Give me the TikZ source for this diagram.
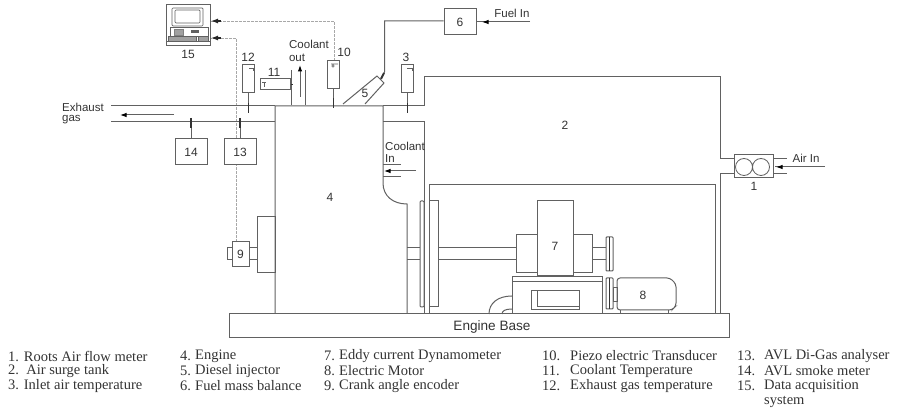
\documentclass[tikz,border=0pt]{standalone}
\usepackage{fontspec}
\setmainfont{Liberation Serif}
\setsansfont{Liberation Sans}
\usetikzlibrary{arrows.meta}
\definecolor{ln}{gray}{0.38}
\definecolor{tx}{gray}{0.2}
\tikzset{
  part/.style={draw=ln,line width=1pt},
  box/.style={draw=ln,line width=1pt,fill=white,minimum width=32pt,minimum height=26pt,inner sep=0pt,font=\sffamily\fontsize{12}{12}\selectfont,text=tx},
  lab/.style={font=\sffamily\fontsize{12}{12}\selectfont,text=tx,inner sep=0pt},
  small/.style={font=\sffamily\fontsize{11.5}{12}\selectfont,text=tx,inner sep=0pt},
  leg/.style={anchor=west,font=\rmfamily\fontsize{14.5}{15}\selectfont,text=tx,inner sep=0pt},
  sig/.style={draw=ln!55,line width=0.8pt,dashed,dash pattern=on 3pt off 1pt},
  tick/.style={draw=tx,line width=1.8pt},
  flow/.style={draw=ln,line width=1pt,-{Latex[length=6.5pt,width=4.5pt,color=black]}},
  sensor/.style={draw=ln,line width=1pt,fill=white,minimum width=12.5pt,minimum height=28pt,inner sep=0pt}
}
\begin{document}
\begin{tikzpicture}[x=1pt,y=-1pt]
\useasboundingbox (0,0) rectangle (897,411);
% signal lines
\coordinate (c1) at (211,21); \coordinate (c2) at (211,38);
\coordinate (s10a) at (334,21); \coordinate (s13a) at (236,38); \coordinate (s9a) at (236,242);
\coordinate (s10b) at (334,61);
\draw[sig] (s10b) -- (s10a) -- (c1);
\draw[sig] (s9a) -- (s13a) -- (c2);
\draw[draw=black!85,line width=1.2pt,-{Latex[length=7pt,width=5pt]}] (221,21) -- (c1);
\draw[draw=black!85,line width=1.2pt,-{Latex[length=7pt,width=5pt]}] (221,38) -- (c2);
% computer
\node[draw=ln,line width=1pt,minimum width=44pt,minimum height=41pt,inner sep=0pt] (pc) at (188,25.5) {};
\draw[ln,line width=0.7pt,rounded corners=1pt] (172,8) rectangle (203,26);
\draw[ln,line width=0.7pt,rounded corners=1pt] (175,10) rectangle (200,23);
\draw[ln,line width=0.7pt] (170,27) rectangle (208,36);
\draw[ln!80,fill=ln!60,line width=0.3pt] (174,29) rectangle (183,35);
\draw[ln,fill=ln,line width=0.3pt] (191,30) rectangle (198,32);
\draw[ln,line width=0.7pt,fill=ln!60] (168,36) rectangle (196,41);
\draw[ln,line width=0.7pt,fill=ln!60] (198,36) rectangle (208,41);
\draw[ln,line width=1pt] (166,42) -- (210,42);
\node[lab] (n15) at (188,54) {15};
% exhaust
\coordinate (e1a) at (111,106); \coordinate (e1b) at (111,122);
\node[lab,anchor=center] (n4) at (330,197) {4};
\draw[part] (e1a) -- (275,106);
\draw[part] (e1b) -- (275,122);
\draw[flow] (174,115) -- (120,115);
\node[small,anchor=west] (ex1) at (62,107) {Exhaust};
\node[small,anchor=west] (ex2) at (62,120) {gas};
% engine outline and tank
\draw[part] (407,314) -- (407,204) .. controls (393,204) and (383,196) .. (383,183) -- (383,106) -- (275,106) -- (275,314);
\draw[part] (383,106) -- (424,106) -- (424,77) -- (720,77) -- (720,159) -- (734,159);
\draw[part] (383,122) -- (424,122) -- (424,314);
\draw[part] (429,314) -- (429,185) -- (715,185) -- (715,314);
\draw[part] (734,174) -- (720,174) -- (720,314);
\node[lab] (n2) at (565,125) {2};
% coolant in
\node[small,anchor=west] (cin1) at (385,146) {Coolant};
\node[small,anchor=west] (cin2) at (385,159) {In};
\draw[part] (383,165) -- (401,165);
\draw[part] (383,177) -- (401,177);
\draw[flow] (416,171) -- (384,171);
% measuring boxes
\node[box] (b14) at (191,152) {14};
\node[box] (b13) at (240,152) {13};
\node[sensor] (s12) at (248.5,79) {};
\node[sensor] (s10) at (333.5,74.5) {};
\node[sensor] (s3) at (407.5,79) {};
\draw[ln,line width=0.6pt] (249,68) -- (254,68) (253,68) -- (253,71);
\draw[ln,line width=0.6pt] (331,64) -- (338,64) (333,66) circle (1.3);
\draw[ln,line width=0.6pt] (407,68) -- (413,68) (412,68) -- (412,71);
\node[lab] (n12) at (248,57) {12};
\node[lab] (n10) at (344,52) {10};
\node[lab] (n3) at (406,57) {3};
\draw[part] (b14.north) -- (191,122);
\draw[part] (b13.north) -- (240,122);
\draw[tick] (191,118) -- (191,128);
\draw[tick] (240,118) -- (240,128);
\draw[part] (s12.south) -- (248.5,106);
\draw[tick] (248.5,103) -- (248.5,113);
\draw[part] (s10.south) -- (333.5,106);
\draw[tick] (333.5,98) -- (333.5,108);
\draw[part] (s3.south) -- (407.5,106);
\draw[tick] (407.5,103) -- (407.5,113);
% coolant out
\node[draw=ln,line width=1pt,minimum width=30pt,minimum height=11pt,inner sep=0pt] (s11) at (275,84.5) {};
\draw[ln,line width=0.6pt] (262,82) -- (266,82) (264,82) -- (264,87);
\node[lab] (n11) at (274,72) {11};
\draw[part] (291,70) -- (291,105);
\draw[part] (305,70) -- (305,105);
\draw[tick,line width=1pt] (s11.east) -- (293,84.5);
\draw[flow] (300,97) -- (300,65);
\node[small,anchor=center] (cout1) at (309,44) {Coolant};
\node[small,anchor=center] (cout2) at (297,58) {out};
% injector
\draw[part,fill=white] (343,104) -- (377,76) -- (384,83) -- (365,104);
\node[lab] (n5) at (365,93) {5};
\node[box] (b6) at (460,22) {6};
\coordinate (w1) at (384.5,21);
\draw[part] (b6.west |- w1) -- (w1) -- (384.5,72) -- (381,78);
\draw[tick] (384,73) -- (381,79);
\node[small,anchor=center] (fuel) at (512,13) {Fuel In};
\coordinate (fuelend) at (530,22);
\draw[part] (fuelend) -- (b6.east |- fuelend);
\draw[flow] (490,22) -- (482,22);
% roots meter
\node[draw=ln,line width=1pt,minimum width=39pt,minimum height=23pt,inner sep=0pt] (b1) at (753.5,166.5) {};
\draw[ln,line width=0.8pt] (744,167) circle (8.5) (761,167) circle (8.5);
\node[lab] (n1) at (754,186) {1};
\draw[part] (773,159) -- (787,159);
\draw[part] (773,174) -- (787,174);
\coordinate (airend) at (825,167);
\draw[part] (airend) -- (775,167);
\draw[flow] (787,167) -- (776,167);
\node[small,anchor=center] (air) at (806,158) {Air In};
% base
\node[draw=ln,line width=1pt,minimum width=500pt,minimum height=24pt,inner sep=0pt] (base) at (479,326) {};
\node[font=\sffamily\fontsize{13.6}{14}\selectfont,text=tx,inner sep=0pt] (baselab) at (492,327) {Engine Base};
% encoder
\draw[part] (257,217) rectangle (275,273);
\draw[part] (249,248) -- (257,248) (249,260) -- (257,260);
\draw[part] (227,248) rectangle (232,260);
\node[draw=ln,line width=1pt,minimum width=17pt,minimum height=25pt,inner sep=0pt,fill=white,font=\sffamily\fontsize{12}{12}\selectfont,text=tx] (b9) at (240.5,254.5) {9};
% flywheel
\draw[part,rounded corners=1pt] (420,201) rectangle (424,307);
\draw[part] (429,201) rectangle (438,307);
\draw[part] (407,248) -- (420,248) (407,260) -- (420,260);
\draw[part] (438,248) -- (516,248) (438,260) -- (516,260);
% dyno
\draw[part] (516,235) rectangle (537,273);
\draw[part] (573,235) rectangle (592,273);
\node[draw=ln,line width=1pt,minimum width=36pt,minimum height=75pt,inner sep=0pt,fill=white] (b7) at (555,238.5) {};
\node[lab] (n7) at (555,246) {7};
\draw[part] (592,248) -- (606,248) (592,260) -- (606,260);
\draw[part,rounded corners=0.8pt] (606,237) rectangle (613,271);
\draw[part,rounded corners=0.8pt] (606,278) rectangle (613,309);
\draw[tx,line width=1.2pt] (609.5,237) -- (609.5,271) (609.5,278) -- (609.5,309);
% stand
\draw[part] (512,314) -- (512,277) -- (602,277) -- (602,314);
\draw[part] (512,282) -- (602,282);
\draw[part] (531,291) rectangle (579,310);
\draw[part] (537,291) -- (537,307) -- (579,307);
\draw[part] (489,314) .. controls (489,303) and (498,296) .. (512,296);
\draw[part] (502,314) .. controls (502,311) and (505,309) .. (512,309);
% motor
\draw[part] (613,288) rectangle (617,302);
\draw[part,rounded corners=3pt] (617,310) -- (617,278) -- (670,278) -- (676,284) -- (676,306) -- (672,310) -- cycle;
\draw[part] (620,310) -- (620,314) (668,310) -- (668,314);
\node[lab] (n8) at (643,295) {8};
% legend
\foreach \px/\py/\tt in {
 8/356/{1. Roots Air flow meter},
 8/371/{2.\ \ Air surge tank},
 8/386/{3. Inlet air temperature}}
 {\node[leg] at (\px,\py) {\tt};}
\foreach \py/\nn/\tt in {356/4./Engine,371/5./Diesel injector,386/6./Fuel mass balance}
 {\node[leg] at (180,\py) {\nn}; \node[leg] at (195,\py) {\tt};}
\foreach \py/\nn/\tt in {356/7./Eddy current Dynamometer,371/8./Electric Motor,386/9./Crank angle encoder}
 {\node[leg] at (324,\py) {\nn}; \node[leg] at (339,\py) {\tt};}
\foreach \py/\nn/\tt in {356/10./Piezo electric Transducer,371/11./Coolant Temperature,386/12./Exhaust gas temperature}
 {\node[leg] at (542,\py) {\nn}; \node[leg] at (570,\py) {\tt};}
\foreach \py/\nn/\tt in {356/13./AVL Di-Gas analyser,371/14./AVL smoke meter,386/15./Data acquisition}
 {\node[leg] at (737,\py) {\nn}; \node[leg] at (764,\py) {\tt};}
\node[leg] at (764,402) {system};
\end{tikzpicture}
\end{document}
